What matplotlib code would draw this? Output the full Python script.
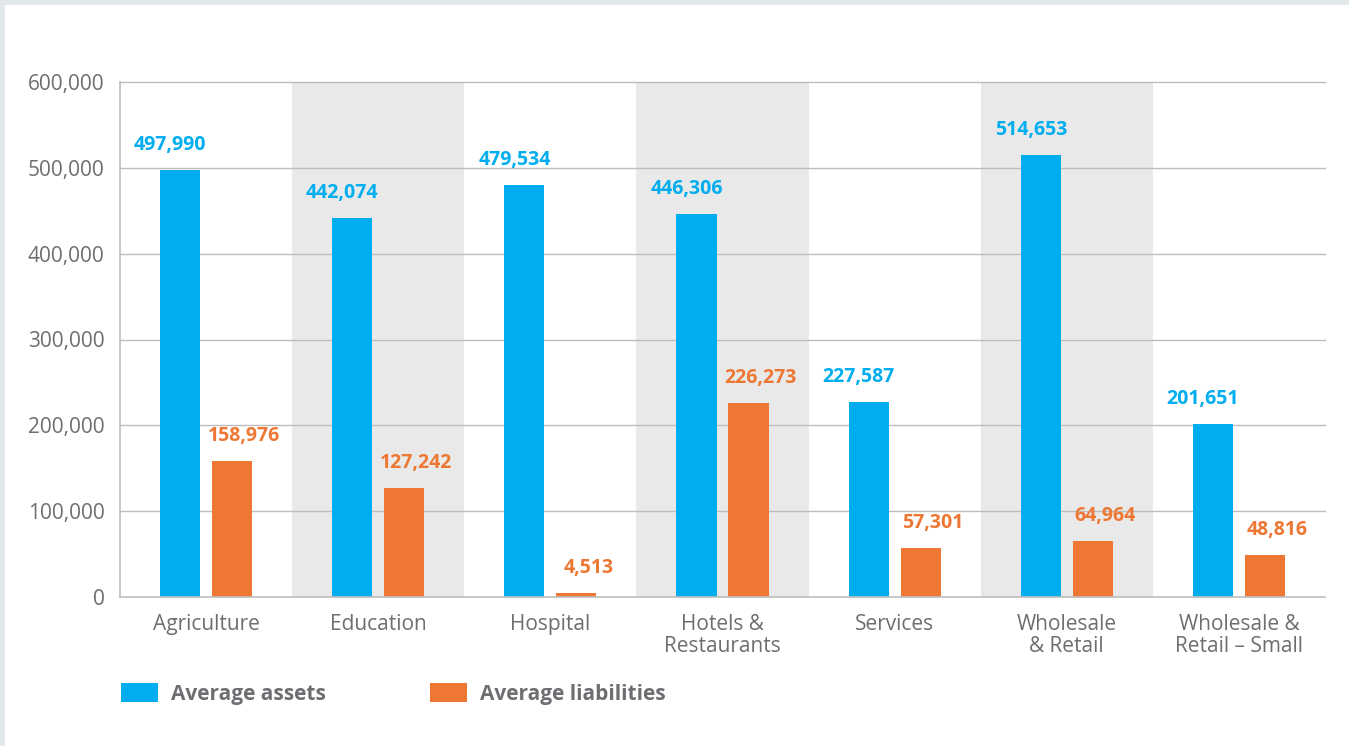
import matplotlib.pyplot as plt
import matplotlib.patches as mpatches
import numpy as np

plt.rcParams['font.family'] = ['Open Sans', 'DejaVu Sans']

categories = ["Agriculture", "Education", "Hospital", "Hotels &\nRestaurants",
              "Services", "Wholesale\n& Retail", "Wholesale &\nRetail \u2013 Small"]
assets = [497990, 442074, 479534, 446306, 227587, 514653, 201651]
liabilities = [158976, 127242, 4513, 226273, 57301, 64964, 48816]
yticks = [0, 100000, 200000, 300000, 400000, 500000, 600000]

blue = "#00aeef"
orange = "#ed7733"
txt = "#6d6e71"
grid = "#bdbdbd"

fig = plt.figure(figsize=(13.49, 7.46), dpi=100, facecolor="#e2e7ea")
# white card on grey page
fig.patches.append(mpatches.Rectangle((5/1349, 0), 1, 1 - 5/746, transform=fig.transFigure,
                                      facecolor="white", edgecolor="none", zorder=-10))
ax = fig.add_axes([120/1349, 1 - 597/746, 1205/1349, 515/746])
ax.set_facecolor("none")

x = np.arange(len(categories))
w = 0.233
off = 0.151

# shaded bands
for i in (1, 3, 5):
    ax.axvspan(i - 0.5, i + 0.5, color="#e9e9e9", zorder=0, lw=0)
for t in yticks[1:]:
    ax.axhline(t, color=grid, lw=1, zorder=1, clip_on=False)

ax.bar(x - off, assets, w, color=blue, zorder=2, label="Average assets")
ax.bar(x + off, liabilities, w, color=orange, zorder=2, label="Average liabilities")

for i in range(len(categories)):
    ax.annotate(f"{assets[i]:,}", (x[i] - off, assets[i]), xytext=(-10, 25),
                textcoords="offset pixels", ha="center", va="center",
                color=blue, fontsize=14, fontweight="bold")
    ax.annotate(f"{liabilities[i]:,}", (x[i] + off, liabilities[i]), xytext=(12, 25),
                textcoords="offset pixels", ha="center", va="center",
                color=orange, fontsize=14, fontweight="bold")

ax.set_xlim(-0.5, len(categories) - 0.5)
ax.set_ylim(0, 600000)
ax.set_yticks(yticks, [f"{t:,}" for t in yticks])
ax.set_xticks(x, categories)
ax.tick_params(axis="both", length=0, colors=txt, labelsize=15)
ax.tick_params(axis="y", pad=11)
ax.tick_params(axis="x", pad=12)
for lab in ax.get_xticklabels():
    lab.set_linespacing(1.1)

for s in ("top", "right"):
    ax.spines[s].set_visible(False)
for s in ("left", "bottom"):
    ax.spines[s].set_color(grid)
    ax.spines[s].set_linewidth(1.2)

handles, labels = ax.get_legend_handles_labels()
leg = fig.legend(handles, labels, loc="center left", bbox_to_anchor=(102/1349, 1 - 694/746),
                 ncol=2, frameon=False, handlelength=1.8, handleheight=1.0,
                 handletextpad=0.6, columnspacing=5.0,
                 prop={"size": 15, "weight": "bold"})
for t in leg.get_texts():
    t.set_color(txt)

fig.savefig("out.png", dpi=100, facecolor=fig.get_facecolor())
